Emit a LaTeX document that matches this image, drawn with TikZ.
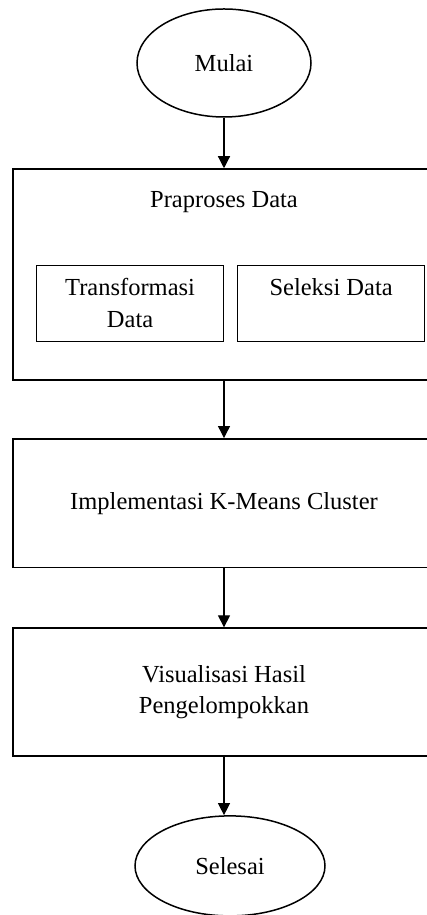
\documentclass[tikz,border=0pt]{standalone}
\usepackage{fontspec}
\setmainfont{Liberation Serif}
\usetikzlibrary{positioning,shapes.geometric,arrows.meta}

\begin{document}
\begin{tikzpicture}[
  node distance=57pt,
  every node/.style={font=\fontsize{24.5}{31.5}\selectfont},
  terminal/.style={draw,ellipse,line width=1.5pt,minimum width=174pt,minimum height=108pt},
  proses/.style={draw,rectangle,line width=1.8pt,minimum width=422pt,minimum height=128.5pt,align=center},
  subproses/.style={draw,rectangle,line width=1pt,minimum width=187pt,minimum height=76pt,align=center},
  panah/.style={-{Triangle[width=12pt,length=12pt]},line width=1.2pt}
]
\useasboundingbox (0pt,0pt) rectangle (426pt,915pt);

\node[terminal] (mulai) at (224pt,852pt) {Mulai};
\node[proses,minimum height=210.5pt,below=50.5pt of mulai] (praproses) {};
\node (judul) at ([yshift=-34pt]praproses.north) {Praproses Data};
\node[subproses,anchor=south west] (transformasi) at ([shift={(24pt,39pt)}]praproses.south west) {Transformasi\\Data};
\node[subproses,right=13pt of transformasi] (seleksi) {Seleksi Data\\~};
\node[proses,below=57.5pt of praproses] (implementasi) {Implementasi K-Means Cluster};
\node[proses,minimum height=127.5pt,below=59pt of implementasi] (visualisasi) {Visualisasi Hasil\\Pengelompokkan};
\node[terminal,minimum width=190pt,minimum height=100pt,below=58.5pt of visualisasi,xshift=6pt] (selesai) {Selesai};

\draw[panah] (mulai) -- (praproses);
\draw[panah] (praproses) -- (implementasi);
\draw[panah] (implementasi) -- (visualisasi);
\draw[panah] (visualisasi.south) -- (visualisasi.south |- selesai.north);

\end{tikzpicture}
\end{document}
